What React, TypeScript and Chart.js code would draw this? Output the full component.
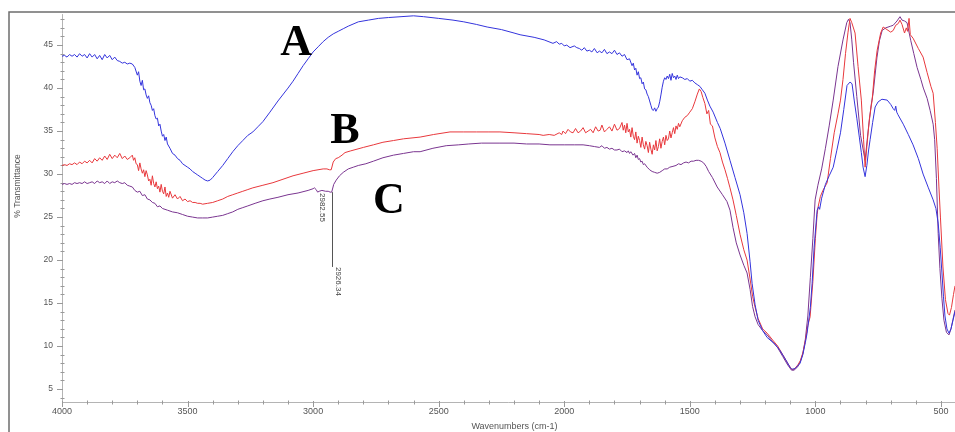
import React, { useEffect, useRef } from 'react';
import { Chart, registerables } from 'chart.js';

Chart.register(...registerables);

// Spectrum A (blue): [wavenumber cm-1, %T]
const seriesA: [number, number][] = [
  [4000,43.7],[3990,43.8],[3980,43.6],[3970,43.9],[3960,43.7],[3950,43.9],[3940,43.6],[3930,44.0],[3920,43.7],[3910,43.9],
  [3900,43.5],[3890,44.0],[3880,43.6],[3870,43.9],[3860,43.4],[3850,43.8],[3840,43.3],[3830,43.9],[3820,43.5],[3810,43.8],
  [3800,43.3],[3790,43.6],[3780,43.2],[3770,43.1],[3760,42.9],[3750,43.0],[3740,42.8],[3730,42.9],[3720,42.8],[3710,42.4],
  [3700,41.5],[3695,41.9],[3690,40.8],[3685,40.3],[3680,40.9],[3675,39.8],[3670,39.9],[3665,39.2],[3660,38.8],[3655,39.1],
  [3650,38.3],[3645,38.0],[3640,37.4],[3635,37.6],[3630,36.8],[3625,36.4],[3620,36.5],[3615,35.6],[3610,35.8],[3605,35.0],
  [3600,34.4],[3595,34.6],[3590,33.9],[3585,34.3],[3580,33.5],[3570,33.0],[3560,32.4],[3550,32.2],[3540,31.8],[3530,31.6],
  [3520,31.2],[3510,31.0],[3500,30.8],[3490,30.6],[3480,30.3],[3470,30.1],[3460,29.9],[3450,29.7],[3440,29.5],[3430,29.3],
  [3420,29.2],[3410,29.3],[3400,29.6],[3380,30.3],[3360,31.0],[3340,31.8],[3320,32.6],[3300,33.3],[3280,33.9],[3260,34.5],
  [3240,34.9],[3220,35.5],[3200,36.1],[3172,37.2],[3140,38.5],[3100,40.0],[3080,40.8],[3060,41.7],[3040,42.6],[3020,43.4],
  [3000,44.2],[2980,44.8],[2960,45.4],[2940,45.9],[2920,46.3],[2900,46.6],[2880,46.9],[2860,47.2],[2820,47.7],[2780,47.9],
  [2740,48.1],[2700,48.2],[2650,48.3],[2600,48.4],[2560,48.3],[2500,48.1],[2443,47.9],[2400,47.7],[2350,47.4],[2307,47.1],
  [2250,46.8],[2200,46.4],[2176,46.2],[2120,45.9],[2080,45.6],[2045,45.2],[2030,45.4],[2020,45.1],[2010,45.2],[2000,44.9],
  [1990,45.0],[1977,44.7],[1960,44.9],[1950,44.7],[1940,44.6],[1930,44.4],[1920,44.7],[1910,44.3],[1900,44.4],[1890,44.2],
  [1880,44.6],[1869,44.1],[1860,44.3],[1850,44.1],[1840,44.5],[1830,44.0],[1820,44.2],[1810,44.0],[1800,44.4],[1790,43.9],
  [1780,44.1],[1770,43.7],[1760,43.9],[1750,43.3],[1740,43.4],[1730,42.6],[1725,42.9],[1720,42.1],[1715,42.3],[1710,41.5],
  [1705,41.9],[1700,41.1],[1695,41.2],[1690,40.5],[1685,40.7],[1680,39.9],[1675,39.8],[1670,39.3],[1665,39.0],[1660,38.5],
  [1655,38.0],[1650,37.5],[1645,37.4],[1640,37.7],[1635,37.3],[1630,37.6],[1625,37.8],[1620,38.4],[1615,39.2],[1610,40.1],
  [1605,40.8],[1600,41.2],[1595,41.0],[1590,41.4],[1585,41.1],[1580,41.6],[1575,40.9],[1570,41.7],[1565,41.2],[1560,41.4],
  [1555,41.0],[1550,41.5],[1545,41.1],[1540,41.3],[1530,41.2],[1520,41.0],[1510,41.1],[1500,40.8],[1490,40.9],[1480,40.6],
  [1470,40.4],[1460,40.2],[1450,39.8],[1440,39.4],[1430,38.6],[1420,37.9],[1407,37.2],[1390,36.0],[1379,35.3],[1360,33.6],
  [1340,31.6],[1320,29.6],[1300,27.6],[1285,25.5],[1272,23.1],[1260,19.8],[1252,17.3],[1240,14.8],[1228,13.0],[1210,11.8],
  [1192,11.0],[1160,10.2],[1141,9.5],[1120,8.5],[1100,7.5],[1093,7.3],[1080,7.4],[1061,8.0],[1050,9.0],[1040,10.4],
  [1033,11.5],[1020,14.5],[1013,17.3],[1005,21.5],[993,25.8],[987,26.2],[983,25.9],[975,27.2],[960,28.8],[945,29.8],
  [929,30.8],[915,32.7],[900,34.8],[887,37.5],[874,40.3],[862,40.7],[854,40.5],[845,38.5],[835,36.5],[825,34.3],
  [817,32.5],[810,30.8],[802,29.7],[795,31.0],[788,32.8],[782,34.0],[772,36.0],[762,37.8],[750,38.4],[735,38.7],
  [714,38.6],[700,38.1],[690,37.6],[684,37.4],[680,37.9],[676,37.2],[671,36.9],[650,35.8],[630,34.6],[611,33.4],
  [590,31.8],[571,30.0],[550,28.4],[531,27.0],[520,26.0],[511,24.3],[503,21.5],[496,18.5],[490,15.8],[484,13.5],
  [476,12.0],[468,11.5],[460,12.0],[452,13.0],[444,14.0],
];

// Spectrum B (red)
const seriesB: [number, number][] = [
  [4000,31.0],[3990,31.1],[3980,31.0],[3970,31.2],[3960,31.1],[3950,31.3],[3940,31.1],[3930,31.4],[3920,31.2],[3910,31.5],
  [3900,31.3],[3890,31.6],[3880,31.3],[3870,31.8],[3860,31.5],[3850,31.9],[3840,31.6],[3830,32.1],[3820,31.7],[3810,32.3],
  [3800,31.8],[3790,32.2],[3780,31.9],[3770,32.4],[3760,31.8],[3750,32.1],[3740,31.7],[3730,31.9],[3720,32.2],[3715,31.6],
  [3710,31.9],[3705,31.2],[3700,31.1],[3695,30.4],[3690,31.3],[3685,30.6],[3680,30.1],[3675,30.5],[3670,29.7],[3665,30.4],
  [3660,29.9],[3655,29.2],[3650,29.4],[3645,28.7],[3640,29.8],[3635,28.9],[3630,28.5],[3625,29.1],[3620,28.3],[3615,28.6],
  [3610,27.9],[3605,28.8],[3600,28.0],[3595,27.7],[3590,28.5],[3585,27.4],[3580,27.8],[3575,27.3],[3570,28.0],[3560,27.2],
  [3550,27.6],[3540,27.1],[3530,27.4],[3520,26.9],[3510,27.1],[3500,26.8],[3490,26.9],[3480,26.7],[3470,26.7],[3460,26.6],
  [3450,26.6],[3440,26.5],[3420,26.6],[3400,26.7],[3380,26.9],[3360,27.1],[3340,27.4],[3320,27.6],[3300,27.8],[3280,28.0],
  [3260,28.2],[3240,28.4],[3200,28.7],[3160,29.0],[3120,29.4],[3080,29.8],[3040,30.1],[3000,30.4],[2960,30.6],[2945,30.6],
  [2935,30.5],[2928,30.5],[2920,31.4],[2910,31.8],[2900,31.9],[2885,32.2],[2873,32.5],[2850,32.7],[2800,33.1],[2760,33.4],
  [2722,33.7],[2680,33.9],[2640,34.1],[2574,34.3],[2520,34.6],[2455,34.9],[2400,34.9],[2350,34.9],[2300,34.9],[2256,34.9],
  [2200,34.8],[2150,34.7],[2100,34.6],[2084,34.5],[2060,34.6],[2040,34.5],[2020,34.8],[2010,34.6],[2005,35.0],[1995,34.7],
  [1985,35.2],[1975,34.9],[1965,34.8],[1955,35.3],[1945,34.8],[1935,35.0],[1925,35.4],[1915,34.8],[1905,35.0],[1895,35.2],
  [1885,34.8],[1875,35.5],[1865,35.0],[1857,35.1],[1850,35.7],[1840,34.9],[1830,35.2],[1820,35.5],[1810,35.0],[1800,35.8],
  [1790,35.1],[1780,35.3],[1770,36.0],[1765,35.1],[1760,35.7],[1755,34.8],[1750,35.9],[1745,34.9],[1740,35.2],[1735,34.3],
  [1730,35.4],[1725,34.4],[1720,34.0],[1715,34.9],[1710,33.6],[1705,34.4],[1700,33.9],[1695,33.1],[1690,34.3],[1685,33.4],
  [1680,32.9],[1675,33.8],[1670,33.3],[1665,32.5],[1660,33.7],[1655,32.9],[1650,32.3],[1645,33.4],[1640,32.8],[1635,33.9],
  [1630,32.7],[1625,33.2],[1620,34.1],[1615,33.0],[1610,33.8],[1605,34.3],[1600,33.4],[1595,34.5],[1590,33.9],[1585,34.1],
  [1580,35.0],[1575,34.2],[1570,34.8],[1565,35.4],[1560,34.7],[1555,35.6],[1550,35.2],[1545,35.9],[1540,35.5],[1530,36.2],
  [1520,36.6],[1510,36.8],[1500,37.2],[1490,37.6],[1480,38.4],[1470,39.3],[1462,39.9],[1455,39.6],[1448,38.9],[1440,38.2],
  [1432,37.0],[1425,37.4],[1418,35.8],[1410,35.6],[1400,34.2],[1390,33.2],[1380,32.5],[1370,31.4],[1360,30.5],[1350,29.5],
  [1340,28.4],[1328,27.0],[1315,25.2],[1300,23.0],[1285,21.2],[1272,20.0],[1260,17.8],[1250,15.8],[1240,14.5],[1228,13.2],
  [1210,12.0],[1192,11.5],[1170,10.7],[1150,10.0],[1130,9.0],[1110,8.0],[1095,7.3],[1085,7.3],[1070,7.8],[1060,8.3],
  [1050,9.2],[1040,10.6],[1030,12.4],[1021,13.4],[1010,17.5],[1000,22.5],[993,25.3],[989,26.2],[980,27.4],[970,28.1],
  [953,29.0],[940,31.8],[925,34.8],[910,37.0],[900,38.6],[890,41.0],[880,44.0],[870,46.5],[862,48.1],[855,47.6],
  [842,46.4],[830,42.5],[817,38.6],[808,34.0],[802,30.8],[795,33.2],[785,36.4],[774,38.6],[764,42.0],[754,44.4],
  [740,46.4],[730,47.1],[715,46.8],[700,46.5],[690,46.7],[680,47.3],[670,47.5],[663,47.9],[655,47.4],[645,46.4],
  [638,47.0],[633,46.6],[627,48.1],[622,46.2],[611,45.8],[590,44.6],[571,43.6],[555,41.8],[540,40.2],[531,39.4],
  [522,36.0],[515,33.0],[508,28.5],[502,25.0],[492,19.2],[482,15.4],[472,13.8],[466,13.6],[458,14.5],[450,16.0],
  [444,17.0],
];

// Spectrum C (purple)
const seriesC: [number, number][] = [
  [4000,28.8],[3990,28.9],[3980,28.8],[3970,28.9],[3960,28.8],[3950,29.0],[3940,28.9],[3930,29.0],[3920,28.9],[3910,29.1],
  [3900,28.9],[3890,29.0],[3880,29.1],[3870,28.9],[3860,29.2],[3850,29.0],[3840,29.1],[3830,28.9],[3820,29.2],[3810,28.9],
  [3800,29.1],[3790,29.0],[3780,29.2],[3770,29.0],[3760,28.9],[3750,29.0],[3740,28.7],[3730,28.6],[3720,28.5],[3710,28.1],
  [3700,27.9],[3690,28.0],[3680,27.5],[3670,27.6],[3660,27.1],[3650,27.0],[3640,26.7],[3630,26.6],[3620,26.2],[3610,26.3],
  [3600,26.0],[3580,25.8],[3560,25.6],[3540,25.5],[3520,25.3],[3500,25.1],[3480,25.0],[3460,24.9],[3440,24.9],[3420,24.9],
  [3400,25.0],[3380,25.1],[3360,25.2],[3340,25.4],[3320,25.6],[3300,25.9],[3280,26.1],[3260,26.3],[3231,26.6],[3200,26.9],
  [3172,27.1],[3140,27.3],[3100,27.6],[3060,27.8],[3020,28.1],[3000,28.3],[2995,28.4],[2988,28.2],[2982,27.9],[2976,28.0],
  [2965,28.1],[2950,28.0],[2940,28.0],[2932,27.9],[2926,27.9],[2918,28.8],[2908,29.3],[2895,29.8],[2880,30.2],[2860,30.6],
  [2840,30.8],[2820,31.0],[2790,31.2],[2760,31.5],[2722,31.9],[2680,32.2],[2640,32.4],[2600,32.6],[2574,32.6],[2523,33.0],
  [2470,33.3],[2420,33.4],[2380,33.5],[2330,33.6],[2256,33.6],[2200,33.6],[2150,33.5],[2100,33.5],[2057,33.4],[2000,33.4],
  [1960,33.4],[1925,33.4],[1900,33.3],[1880,33.2],[1860,33.1],[1850,33.3],[1840,33.0],[1830,33.1],[1820,32.9],[1810,33.0],
  [1800,32.8],[1790,32.8],[1780,32.9],[1770,32.6],[1760,32.7],[1750,32.5],[1745,32.7],[1740,32.4],[1735,32.6],[1726,32.2],
  [1720,32.4],[1715,31.9],[1710,32.2],[1705,31.7],[1700,31.8],[1695,31.4],[1690,31.5],[1685,31.1],[1680,31.2],[1670,30.8],
  [1660,30.5],[1650,30.3],[1640,30.2],[1630,30.1],[1620,30.2],[1610,30.4],[1600,30.6],[1590,30.6],[1580,30.8],[1567,30.9],
  [1555,31.0],[1545,31.2],[1535,31.1],[1525,31.3],[1515,31.4],[1505,31.3],[1495,31.5],[1485,31.5],[1475,31.6],[1465,31.6],
  [1455,31.5],[1445,31.3],[1435,30.9],[1425,30.3],[1410,29.6],[1391,28.5],[1370,27.6],[1352,26.8],[1340,25.8],[1328,23.8],
  [1315,22.0],[1300,20.6],[1285,19.4],[1272,18.5],[1260,16.6],[1250,14.6],[1240,13.4],[1228,12.5],[1210,11.8],[1192,11.3],
  [1170,10.5],[1150,9.8],[1130,8.8],[1110,7.8],[1095,7.2],[1085,7.2],[1070,7.6],[1060,8.2],[1050,9.1],[1040,10.8],
  [1030,13.5],[1020,18.0],[1010,22.5],[1001,27.0],[990,28.7],[975,30.6],[960,33.0],[945,35.6],[929,38.6],[910,42.5],
  [890,45.6],[875,47.6],[868,48.0],[862,47.6],[855,45.6],[848,43.0],[835,39.0],[820,34.5],[802,31.6],[790,35.0],
  [778,38.0],[770,39.4],[755,43.5],[745,45.5],[734,46.7],[720,47.0],[700,47.2],[690,47.3],[675,47.8],[663,48.3],
  [655,47.9],[645,47.8],[635,47.6],[620,45.5],[608,44.0],[595,42.4],[580,41.0],[570,40.0],[555,38.8],[543,37.4],
  [531,35.8],[525,34.0],[518,29.5],[511,23.1],[504,19.0],[496,15.5],[488,13.0],[478,11.6],[468,11.3],[460,12.0],
  [452,13.1],[444,14.2],
];

const xTickValues = [4000, 3500, 3000, 2500, 2000, 1500, 1000, 500];
const yTickValues = [5, 10, 15, 20, 25, 30, 35, 40, 45];
const xTitle = 'Wavenumbers (cm-1)';
const yTitle = '% Transmittance';

// curve letters: text, wavenumber (centre), %T (baseline)
const letterTexts = ['A', 'B', 'C'];
const letterWave = [3068, 2873, 2698];
const letterT = [43.8, 33.6, 25.5];

// peak labels: wavenumber, %T at the peak, %T where the label begins
const peakWave = [2982.55, 2926.34];
const peakT = [27.9, 27.9];
const peakLabelT = [27.8, 19.2];
const peakHasLine = [false, true];

const overlay = {
  id: 'overlay',
  beforeDatasetsDraw(chart: any) {
    const { ctx, chartArea, scales } = chart;
    const xs = scales.x;
    const ys = scales.y;
    ctx.save();
    // frame
    ctx.strokeStyle = '#6e6e6e';
    ctx.lineWidth = 1.5;
    ctx.beginPath();
    ctx.moveTo(9, chart.height);
    ctx.lineTo(9, 12);
    ctx.lineTo(chart.width, 12);
    ctx.stroke();
    // axis lines
    ctx.strokeStyle = '#b4b4b4';
    ctx.lineWidth = 1;
    ctx.beginPath();
    ctx.moveTo(chartArea.left + 0.5, chartArea.top);
    ctx.lineTo(chartArea.left + 0.5, chartArea.bottom + 0.5);
    ctx.lineTo(chartArea.right, chartArea.bottom + 0.5);
    ctx.stroke();
    // y ticks
    ctx.strokeStyle = '#999';
    ctx.beginPath();
    for (let v = Math.ceil(ys.min); v <= ys.max; v++) {
      const y = Math.round(ys.getPixelForValue(v)) + 0.5;
      if (v % 5 === 0) {
        ctx.moveTo(chartArea.left - 5, y);
        ctx.lineTo(chartArea.left + 1, y);
      } else {
        ctx.moveTo(chartArea.left - 1.5, y);
        ctx.lineTo(chartArea.left + 2.5, y);
      }
    }
    // x ticks
    for (let v = 500; v <= 4000; v += 100) {
      const x = Math.round(xs.getPixelForValue(v)) + 0.5;
      if (v % 500 === 0) {
        ctx.moveTo(x, chartArea.bottom - 1);
        ctx.lineTo(x, chartArea.bottom + 5);
      } else {
        ctx.moveTo(x, chartArea.bottom - 1.5);
        ctx.lineTo(x, chartArea.bottom + 2.5);
      }
    }
    ctx.stroke();
    // axis titles
    ctx.fillStyle = '#555';
    ctx.font = '9px "Liberation Sans", Arial, sans-serif';
    ctx.textAlign = 'center';
    ctx.textBaseline = 'middle';
    ctx.fillText(xTitle, (chartArea.left + chartArea.right) / 2 + 6, chartArea.bottom + 25);
    ctx.save();
    ctx.translate(18, (chartArea.top + chartArea.bottom) / 2 - 22);
    ctx.rotate(-Math.PI / 2);
    ctx.font = '8.5px "Liberation Sans", Arial, sans-serif';
    ctx.fillText(yTitle, 0, 0);
    ctx.restore();
    ctx.restore();
  },
  afterDatasetsDraw(chart: any) {
    const { ctx, scales } = chart;
    const xs = scales.x;
    const ys = scales.y;
    ctx.save();
    // peak markers
    ctx.strokeStyle = '#555';
    ctx.fillStyle = '#444';
    ctx.lineWidth = 1;
    ctx.font = '8px "Liberation Sans", Arial, sans-serif';
    ctx.textAlign = 'left';
    ctx.textBaseline = 'middle';
    peakWave.forEach((w, i) => {
      const x = xs.getPixelForValue(w);
      const yTop = ys.getPixelForValue(peakT[i]);
      const yLab = ys.getPixelForValue(peakLabelT[i]);
      if (peakHasLine[i]) {
        ctx.beginPath();
        ctx.moveTo(Math.round(x) + 0.5, yTop);
        ctx.lineTo(Math.round(x) + 0.5, yLab);
        ctx.stroke();
      }
      ctx.save();
      ctx.translate(x + (peakHasLine[i] ? 7 : 5), yLab);
      ctx.rotate(Math.PI / 2);
      ctx.fillText(w.toFixed(2), 0, 0);
      ctx.restore();
    });
    // letters
    ctx.fillStyle = '#000';
    ctx.font = 'bold 44px "Liberation Serif", "Times New Roman", serif';
    ctx.textAlign = 'center';
    ctx.textBaseline = 'alphabetic';
    letterTexts.forEach((t, i) => {
      ctx.fillText(t, xs.getPixelForValue(letterWave[i]), ys.getPixelForValue(letterT[i]));
    });
    ctx.restore();
  },
};

export default function App() {
  const ref = useRef<HTMLCanvasElement>(null);
  useEffect(() => {
    if (!ref.current) return;
    const toXY = (s: [number, number][]) => s.map(([x, y]) => ({ x, y }));
    const chart = new Chart(ref.current, {
      type: 'line',
      data: {
        datasets: [
          { label: 'A', data: toXY(seriesA), borderColor: '#3434dc', borderWidth: 1, pointRadius: 0, tension: 0, fill: false },
          { label: 'B', data: toXY(seriesB), borderColor: '#e8383c', borderWidth: 1, pointRadius: 0, tension: 0, fill: false },
          { label: 'C', data: toXY(seriesC), borderColor: '#7a3590', borderWidth: 1, pointRadius: 0, tension: 0, fill: false },
        ],
      },
      options: {
        animation: false,
        responsive: false,
        events: [],
        layout: { padding: { left: 0, right: 0, top: 14, bottom: 0 } },
        plugins: { legend: { display: false }, tooltip: { enabled: false }, title: { display: false } },
        scales: {
          x: {
            type: 'linear',
            reverse: true,
            min: 444,
            max: 4000,
            afterBuildTicks: (s: any) => { s.ticks = xTickValues.map((v) => ({ value: v })); },
            afterFit: (s: any) => { s.height = 30; },
            grid: { display: false, drawTicks: false },
            border: { display: false },
            ticks: {
              autoSkip: false,
              maxRotation: 0,
              padding: 4,
              color: '#555',
              font: { family: '"Liberation Sans", Arial, sans-serif', size: 9 },
              callback: (v: any) => String(v),
            },
          },
          y: {
            type: 'linear',
            min: 3.5,
            max: 48.6,
            afterBuildTicks: (s: any) => { s.ticks = yTickValues.map((v) => ({ value: v })); },
            afterFit: (s: any) => { s.width = 62; },
            grid: { display: false, drawTicks: false },
            border: { display: false },
            ticks: {
              padding: 9,
              color: '#555',
              font: { family: '"Liberation Sans", Arial, sans-serif', size: 8.5 },
              callback: (v: any) => String(v),
            },
          },
        },
      },
      plugins: [overlay],
    });
    return () => chart.destroy();
  }, []);
  return (
    <div style={{ position: 'absolute', left: 0, top: 0, width: 955, height: 432, background: '#fff' }}>
      <canvas ref={ref} width={955} height={432} style={{ display: 'block' }} />
    </div>
  );
}
